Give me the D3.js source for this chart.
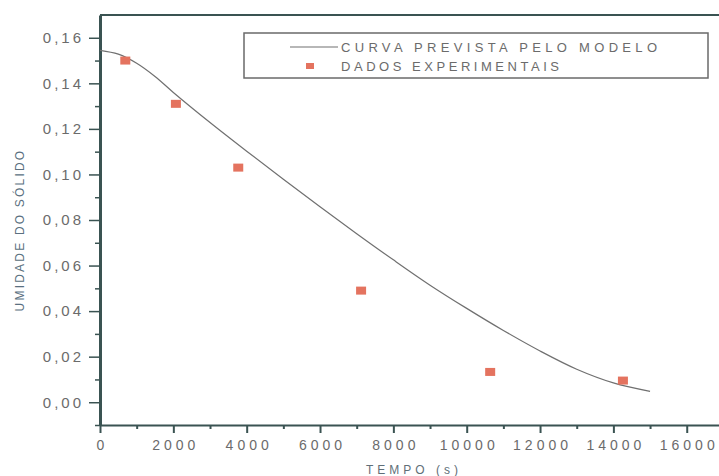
<!DOCTYPE html>
<html lang="pt">
<head>
<meta charset="utf-8">
<title>Umidade do sólido</title>
<script src="https://d3js.org/d3.v7.min.js"></script>
<style>
  body { margin: 0; background: #fff; font-family: "Liberation Sans", Arial, sans-serif; overflow: hidden; }
  svg { display: block; }
</style>
</head>
<body>
<div id="vis"></div>
<script>
  // model curve
  const curveTime = [0, 500, 1000, 1500, 2000, 3000, 4000, 5000, 6000, 7000, 8000, 9000, 10000, 11000, 12000, 13000, 14000, 15000];
  const curveMoist = [0.1545, 0.1528, 0.1488, 0.1430, 0.1360, 0.1228, 0.1102, 0.0979, 0.0858, 0.0740, 0.0625, 0.0514, 0.0412, 0.0315, 0.0225, 0.0145, 0.0085, 0.0048];

  // experimental points
  const expTime = [690, 2070, 3770, 7120, 10640, 14260];
  const expMoist = [0.150, 0.131, 0.103, 0.049, 0.0133, 0.0095];

  const xTicks = [0, 2000, 4000, 6000, 8000, 10000, 12000, 14000, 16000];
  const yTicks = [0, 0.02, 0.04, 0.06, 0.08, 0.10, 0.12, 0.14, 0.16];

  const width = 719, height = 476;
  const plotLeft = 100, plotRight = 719, plotTop = 15, plotBottom = 425;

  const svg = d3.select('#vis').append('svg')
    .attr('width', width)
    .attr('height', height);

  const x = d3.scaleLinear().domain([0, 16880]).range([plotLeft, plotRight]);
  const y = d3.scaleLinear().domain([-0.01, 0.17]).range([plotBottom, plotTop]);

  const axisColour = '#3a5352';
  const labelColour = '#6b6b6b';

  // minor ticks first, majors drawn on top
  const xMinor = d3.range(1000, 16880, 2000);
  const yMinor = [-0.01, 0.01, 0.03, 0.05, 0.07, 0.09, 0.11, 0.13, 0.15];

  svg.append('g')
    .attr('transform', `translate(0,${plotBottom})`)
    .call(d3.axisBottom(x).tickValues(xMinor).tickSize(4).tickSizeOuter(0).tickFormat(''))
    .call(g => g.select('.domain').remove())
    .call(g => g.selectAll('line').attr('stroke', axisColour).attr('stroke-width', 2));

  svg.append('g')
    .attr('transform', `translate(${plotLeft},0)`)
    .call(d3.axisLeft(y).tickValues(yMinor).tickSize(5).tickSizeOuter(0).tickFormat(''))
    .call(g => g.select('.domain').remove())
    .call(g => g.selectAll('line').attr('stroke', axisColour).attr('stroke-width', 1.5));

  const xAxis = svg.append('g')
    .attr('transform', `translate(0,${plotBottom})`)
    .call(d3.axisBottom(x).tickValues(xTicks).tickSize(8).tickSizeOuter(0).tickPadding(7)
      .tickFormat(d3.format('d')))
    .call(g => g.select('.domain').attr('stroke', axisColour).attr('stroke-width', 2))
    .call(g => g.selectAll('line').attr('stroke', axisColour).attr('stroke-width', 2));
  xAxis.selectAll('text')
    .style('font-size', '14px')
    .style('letter-spacing', '4px')
    .attr('dx', '2px')
    .attr('fill', labelColour);

  const yAxis = svg.append('g')
    .attr('transform', `translate(${plotLeft},0)`)
    .call(d3.axisLeft(y).tickValues(yTicks).tickSize(11).tickSizeOuter(0).tickPadding(5)
      .tickFormat(d => d3.format('.2f')(d).replace('.', ',')))
    .call(g => g.select('.domain').attr('stroke', axisColour).attr('stroke-width', 3))
    .call(g => g.selectAll('line').attr('stroke', axisColour).attr('stroke-width', 1.5));
  yAxis.selectAll('text')
    .style('font-size', '15px')
    .style('letter-spacing', '3px')
    .attr('fill', labelColour);

  // top frame
  svg.append('line')
    .attr('x1', plotLeft).attr('x2', plotRight)
    .attr('y1', plotTop).attr('y2', plotTop)
    .attr('stroke', axisColour).attr('stroke-width', 2);

  // model curve
  const curveData = curveTime.map((t, i) => ({ t, m: curveMoist[i] }));
  svg.append('path')
    .datum(curveData)
    .attr('fill', 'none')
    .attr('stroke', '#707070')
    .attr('stroke-width', 1.2)
    .attr('d', d3.line().x(d => x(d.t)).y(d => y(d.m)).curve(d3.curveCatmullRom.alpha(0.5)));

  // experimental points
  const expData = expTime.map((t, i) => ({ t, m: expMoist[i] }));
  svg.selectAll('.pt')
    .data(expData)
    .enter()
    .append('rect')
    .attr('class', 'pt')
    .attr('x', d => x(d.t) - 5)
    .attr('y', d => y(d.m) - 4)
    .attr('width', 10)
    .attr('height', 8)
    .attr('fill', '#e4735f');

  // legend
  const legend = svg.append('g');
  legend.append('rect')
    .attr('x', 244).attr('y', 33)
    .attr('width', 464).attr('height', 45)
    .attr('fill', 'none')
    .attr('stroke', '#6a6a6a')
    .attr('stroke-width', 1.5);
  legend.append('line')
    .attr('x1', 290).attr('x2', 338)
    .attr('y1', 47).attr('y2', 47)
    .attr('stroke', '#707070').attr('stroke-width', 1.2);
  legend.append('text')
    .attr('x', 341).attr('y', 52)
    .attr('textLength', 316).attr('lengthAdjust', 'spacing')
    .style('font-size', '13px').attr('fill', labelColour)
    .text('CURVA PREVISTA PELO MODELO');
  legend.append('rect')
    .attr('x', 306).attr('y', 63)
    .attr('width', 8).attr('height', 6)
    .attr('fill', '#e4735f');
  legend.append('text')
    .attr('x', 341).attr('y', 71)
    .attr('textLength', 218).attr('lengthAdjust', 'spacing')
    .style('font-size', '13px').attr('fill', labelColour)
    .text('DADOS EXPERIMENTAIS');

  // axis titles
  svg.append('text')
    .attr('x', 414).attr('y', 474)
    .attr('text-anchor', 'middle')
    .style('font-size', '12px')
    .style('letter-spacing', '4px')
    .attr('fill', '#5f6f78')
    .text('TEMPO (s)');

  svg.append('text')
    .attr('transform', 'translate(24,230) rotate(-90)')
    .attr('text-anchor', 'middle')
    .style('font-size', '12px')
    .style('letter-spacing', '2.2px')
    .attr('fill', '#5a7080')
    .text('UMIDADE DO SÓLIDO');
</script>
</body>
</html>
